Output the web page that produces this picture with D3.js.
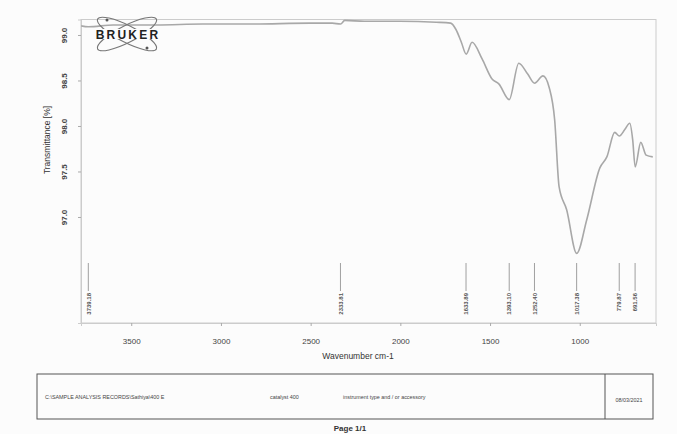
<!DOCTYPE html>
<html>
<head>
<meta charset="utf-8">
<script src="https://cdn.jsdelivr.net/npm/d3@7"></script>
<style>
  html, body { margin: 0; padding: 0; background: #fcfcfc; }
  svg { display: block; font-family: "Liberation Sans", Arial, sans-serif; }
</style>
</head>
<body>
<svg id="chart" width="677" height="434"></svg>
<script>
// IR spectrum: wavenumber (cm-1) and transmittance (%)
const wavenumbers = [3779, 3739, 3600, 3360, 3100, 2842, 2500, 2380, 2333, 2310, 2200, 2004, 1800, 1720,
  1690, 1660, 1633, 1600, 1545, 1490, 1450, 1393, 1340, 1290, 1252, 1205, 1170, 1140, 1115, 1073,
  1017, 961, 888, 849, 805, 779, 749, 721, 705, 691, 660, 630, 593];
const transmittance = [99.10, 99.09, 99.11, 99.11, 99.12, 99.12, 99.13, 99.13, 99.12, 99.16, 99.15, 99.15, 99.14, 99.13,
  99.06, 98.92, 98.79, 98.92, 98.74, 98.52, 98.46, 98.29, 98.69, 98.57, 98.47, 98.55, 98.42, 98.07, 97.33, 97.08,
  96.60, 96.97, 97.54, 97.66, 97.93, 97.89, 97.96, 98.03, 97.85, 97.55, 97.82, 97.68, 97.66];

// Peak picks
const peakValues = [3739.18, 2333.81, 1633.89, 1393.10, 1252.40, 1017.38, 779.87, 691.56];

// Axis ticks
const xTicks = [3500, 3000, 2500, 2000, 1500, 1000];
const yTicks = [99.0, 98.5, 98.0, 97.5, 97.0];

// Report footer
const footerPath = "C:\\SAMPLE ANALYSIS RECORDS\\Sathiya\\400 E";
const footerSample = "catalyst 400";
const footerInstrument = "instrument type and / or accessory";
const footerDate = "08/03/2021";

const svg = d3.select("#chart");
const ink = "#444";
const frameColor = "#cccccc";

const plot = { left: 81, right: 656, top: 19.5, bottom: 323 };

const x = d3.scaleLinear().domain([3780, 575]).range([plot.left, plot.right]);
const y = d3.scaleLinear().domain([95.835, 99.17]).range([plot.bottom, plot.top]);

// Plot frame
svg.append("rect")
  .attr("x", plot.left).attr("y", plot.top)
  .attr("width", plot.right - plot.left).attr("height", plot.bottom - plot.top)
  .attr("fill", "none").attr("stroke", frameColor).attr("stroke-width", 1);

// X axis
const xAxis = svg.append("g")
  .attr("transform", `translate(0,${plot.bottom})`)
  .call(d3.axisBottom(x).tickValues(xTicks).tickSize(3).tickFormat(d3.format("d")));
xAxis.select(".domain").attr("stroke", frameColor);
xAxis.selectAll(".tick line").attr("stroke", "#aaa");
xAxis.selectAll(".tick text")
  .attr("fill", ink).attr("font-size", 8).attr("dy", "1.9em");

svg.append("text")
  .attr("x", 358).attr("y", 359)
  .attr("text-anchor", "middle").attr("font-size", 8.5).attr("fill", "#333")
  .text("Wavenumber cm-1");

// Y axis with rotated labels
const yAxis = svg.append("g")
  .attr("transform", `translate(${plot.left},0)`)
  .call(d3.axisLeft(y).tickValues(yTicks).tickSize(3).tickFormat(d3.format(".1f")));
yAxis.select(".domain").attr("stroke", frameColor);
yAxis.selectAll(".tick line").attr("stroke", "#aaa");
yAxis.selectAll(".tick text")
  .attr("fill", ink).attr("font-size", 8).attr("font-weight", "bold")
  .attr("x", null).attr("dy", null)
  .attr("text-anchor", "middle")
  .attr("transform", "translate(-14,0) rotate(-90)");

svg.append("text")
  .attr("transform", `translate(50,${140}) rotate(-90)`)
  .attr("text-anchor", "middle").attr("font-size", 8.5).attr("fill", "#333")
  .text("Transmittance [%]");

// Spectrum trace
const pts = wavenumbers.map((w, i) => [w, transmittance[i]]);
const line = d3.line().x(d => x(d[0])).y(d => y(d[1])).curve(d3.curveMonotoneX);
svg.append("path")
  .datum(pts)
  .attr("d", line)
  .attr("fill", "none")
  .attr("stroke", "#a8a8a8")
  .attr("stroke-width", 1.6)
  .attr("stroke-linejoin", "round");

// Peak labels along the bottom of the plot
const peaks = svg.append("g");
peakValues.forEach(p => {
  const px = x(p);
  peaks.append("line")
    .attr("x1", px).attr("x2", px)
    .attr("y1", 263).attr("y2", 291)
    .attr("stroke", "#888").attr("stroke-width", 0.8);
  peaks.append("text")
    .attr("transform", `translate(${px + 2.2},${293}) rotate(-90)`)
    .attr("text-anchor", "end")
    .attr("font-size", 6).attr("font-weight", "bold").attr("fill", "#555")
    .text(p.toFixed(2));
});

// Bruker logo: two crossed orbits and the wordmark
const logo = svg.append("g").attr("transform", "translate(127,34)");
[-27, 27].forEach(a => {
  logo.append("ellipse")
    .attr("rx", 33).attr("ry", 8.5)
    .attr("transform", `rotate(${a})`)
    .attr("fill", "none").attr("stroke", "#777").attr("stroke-width", 1.1);
});
[[-20, -14], [20, 14]].forEach(([cx, cy]) => {
  logo.append("circle").attr("cx", cx).attr("cy", cy).attr("r", 1.5).attr("fill", "#555");
});
logo.append("rect").attr("x", -42).attr("y", -5).attr("width", 84).attr("height", 10).attr("fill", "#fcfcfc");
logo.append("text")
  .attr("x", 1).attr("y", 4.5)
  .attr("text-anchor", "middle")
  .attr("font-size", 12).attr("font-weight", "bold").attr("fill", "#222")
  .attr("letter-spacing", 2.2)
  .text("BRUKER");

// Footer box
const foot = svg.append("g");
foot.append("rect")
  .attr("x", 37).attr("y", 374).attr("width", 616).attr("height", 45)
  .attr("fill", "none").attr("stroke", "#555").attr("stroke-width", 1);
foot.append("line")
  .attr("x1", 605).attr("x2", 605).attr("y1", 374).attr("y2", 419)
  .attr("stroke", "#555").attr("stroke-width", 1);
foot.append("text").attr("x", 45).attr("y", 399).attr("font-size", 5.4).attr("fill", "#444").text(footerPath);
foot.append("text").attr("x", 270).attr("y", 399).attr("font-size", 5.4).attr("fill", "#444").text(footerSample);
foot.append("text").attr("x", 343).attr("y", 399).attr("font-size", 5.4).attr("fill", "#444").text(footerInstrument);
foot.append("text").attr("x", 629).attr("y", 402).attr("text-anchor", "middle").attr("font-size", 5.4).attr("fill", "#444").text(footerDate);

svg.append("text")
  .attr("x", 350).attr("y", 431)
  .attr("text-anchor", "middle").attr("font-size", 8).attr("font-weight", "bold").attr("fill", "#333")
  .text("Page 1/1");
</script>
</body>
</html>
